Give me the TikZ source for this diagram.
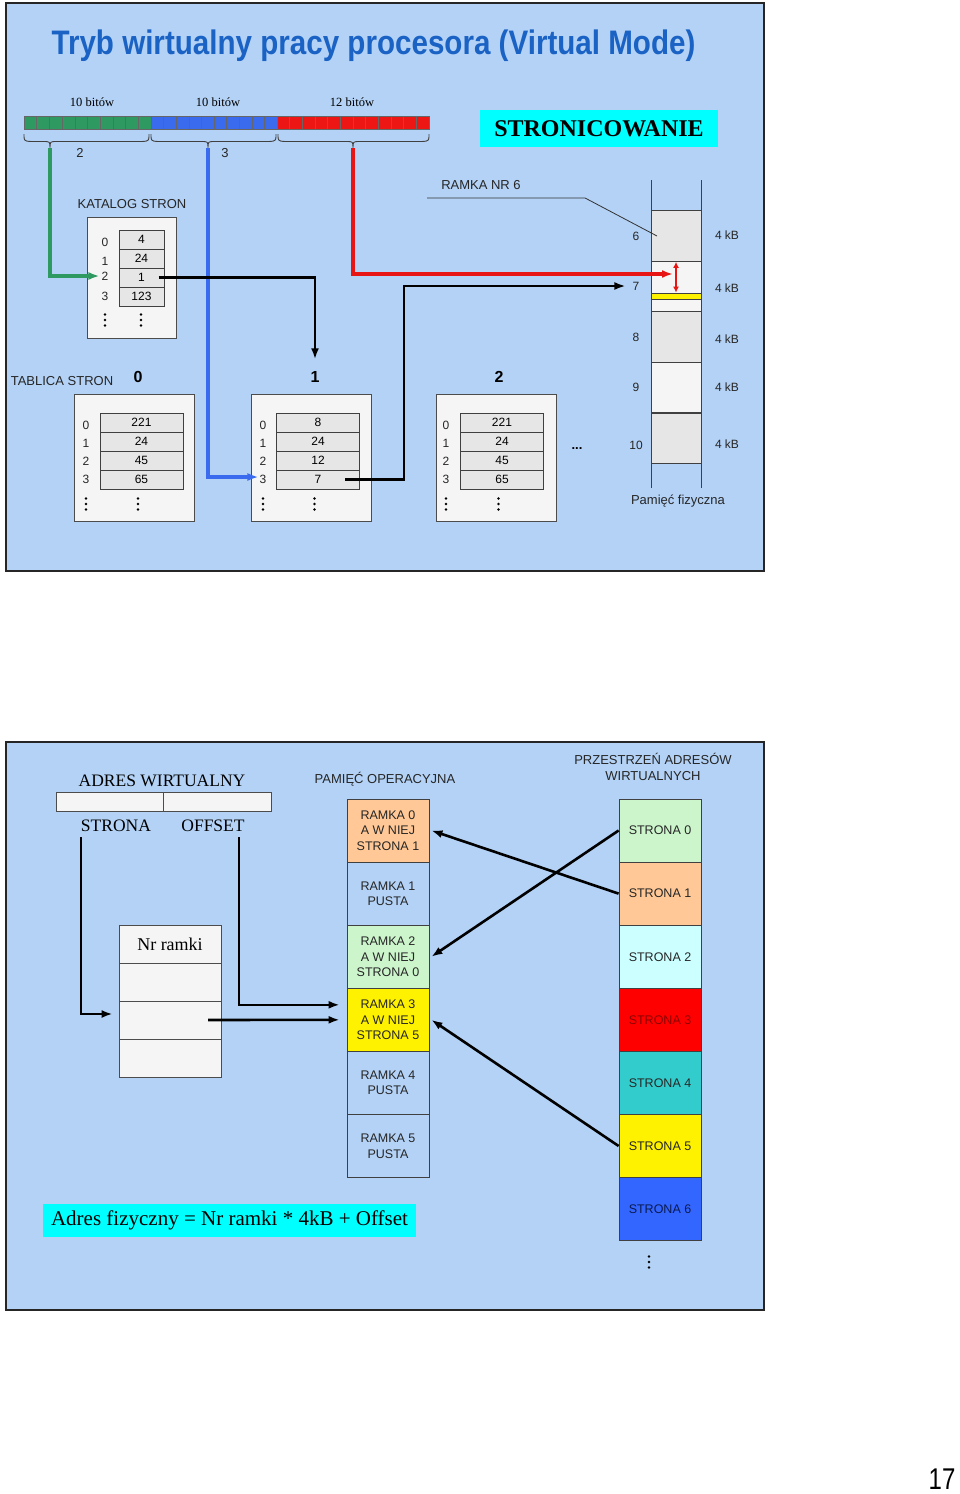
\documentclass[tikz,border=0pt]{standalone}
\usepackage{fontspec}
\setmainfont{Liberation Serif}
\setsansfont{Liberation Sans}
\newfontfamily\condfont{Liberation Sans}[FakeStretch=0.87]
\newfontfamily\numfont{Liberation Sans}[FakeStretch=0.8]
\usetikzlibrary{arrows.meta}
\definecolor{bg}{HTML}{B3D2F6}
\definecolor{titleblue}{HTML}{1A62C4}
\definecolor{bitgreen}{HTML}{2E9A62}
\definecolor{bitblue}{HTML}{3A6AEE}
\definecolor{bitred}{HTML}{EE1515}
\definecolor{cellgray}{HTML}{E6E6E6}
\definecolor{panelwhite}{HTML}{F5F5F5}
\definecolor{cyanbox}{HTML}{00FFFF}
\definecolor{peach}{HTML}{FFC896}
\definecolor{lgreen}{HTML}{CCF5CC}
\definecolor{lcyan}{HTML}{CCFFFF}
\definecolor{teal}{HTML}{33CCCC}
\definecolor{pblue}{HTML}{3366FF}
\definecolor{linegreen}{HTML}{2E9A62}
\definecolor{lineblue}{HTML}{3A6AEE}
\definecolor{linered}{HTML}{E81515}
\definecolor{darkred}{HTML}{8A0000}
\definecolor{navy}{HTML}{0A1A50}
\tikzset{
 slide/.style={draw=black!85,line width=2pt,fill=bg},
 sl/.style={font=\sffamily\fontsize{13}{15}\selectfont,inner sep=0pt,text=black!85},
 sm/.style={font=\sffamily\fontsize{12}{14}\selectfont,inner sep=0pt,text=black!85},
 ser/.style={font=\rmfamily\fontsize{12.5}{14}\selectfont,inner sep=0pt},
 serbig/.style={font=\rmfamily\fontsize{17.5}{20}\selectfont,inner sep=0pt},
 cellbox/.style={draw=black!75,fill=cellgray,line width=0.7pt,minimum width=#1,minimum height=19pt,inner sep=0pt,font=\sffamily\fontsize{12}{14}\selectfont},
 panel/.style={draw=black!70,fill=panelwhite,line width=0.8pt,inner sep=0pt},
 conn/.style={line width=2.6pt,-{Latex[length=11pt,width=8pt]}},
 cconn/.style={draw=#1,line width=3.2pt,-{Latex[length=11pt,width=8pt,fill=#1]}},
 frm/.style={draw=black!75,line width=0.8pt,minimum width=82pt,minimum height=63pt,inner sep=0pt,align=center,font=\sffamily\fontsize{12.5}{15.5}\selectfont,text=black!85},
 mem/.style={draw=black!75,line width=0.8pt,minimum width=50pt,minimum height=50.5pt,inner sep=0pt},
 bit/.style={draw=black!60,line width=0.5pt},
 vd/.pic={\fill (0,-5.5) circle[radius=1.4]; \fill (0,0) circle[radius=1.4]; \fill (0,5.5) circle[radius=1.4];}
}
\begin{document}
\begin{tikzpicture}[x=1pt,y=-1pt]
\useasboundingbox (0,0) rectangle (960,1494);
\fill[white] (0,0) rectangle (960,1494);

% ================= TOP SLIDE =================
\draw[slide] (6,3) rectangle (764,571);
\node[font=\condfont\bfseries\fontsize{34}{38}\selectfont,text=titleblue,inner sep=0pt] (title) at (373.5,46) {Tryb wirtualny pracy procesora (Virtual Mode)};

\node[ser] (b1) at (92,102) {10 bitów};
\node[ser] (b2) at (218,102) {10 bitów};
\node[ser] (b3) at (352,102) {12 bitów};

\foreach \i in {0,...,9} \draw[bit,fill=bitgreen] ({24+\i*12.7},116) rectangle ++(12.7,13);
\foreach \i in {0,...,9} \draw[bit,fill=bitblue] ({151+\i*12.6},116) rectangle ++(12.6,13);
\foreach \i in {0,...,11} \draw[bit,fill=bitred] ({277+\i*12.667},116) rectangle ++(12.667,13);

\coordinate (tipg) at (50,148);
\coordinate (tipb) at (208,148);
\coordinate (tipr) at (353,148);
\foreach \a/\t/\b in {24/50/149, 151/208/276, 278/353/429} {
 \draw[line width=0.9pt,black!75] (\a,134) .. controls (\a,141) .. ({\a+7},141.5) -- ({\t-7},141.5) .. controls (\t,141.5) .. (\t,148) .. controls (\t,141.5) .. ({\t+7},141.5) -- ({\b-7},141.5) .. controls (\b,141) .. (\b,134);
}
\node[sl] (n2) at (80,153) {2};
\node[sl] (n3) at (225,153) {3};

\node[fill=cyanbox,minimum width=238pt,minimum height=37pt,inner sep=0pt,font=\rmfamily\bfseries\fontsize{24}{28}\selectfont] (stron) at (599,128.5) {STRONICOWANIE};

% katalog
\node[sl] (kat) at (132,204) {KATALOG STRON};
\node[panel,minimum width=89pt,minimum height=121pt] (kbox) at (131.5,277.5) {};
\foreach \r/\v/\ly in {0/4/242, 1/24/261, 2/1/276, 3/123/296} {
 \node[cellbox=45pt] (kc\r) at (141.5,{239.5+19*\r}) {\v};
 \node[sm] (kl\r) at (105,\ly) {\r};
}
\pic at (105,320) {vd};
\pic at (141,320) {vd};

% physical memory
\draw[line width=0.8pt,black!75] (651,180) -- (651,488);
\draw[line width=0.8pt,black!75] (701,180) -- (701,488);
\foreach \k/\y/\c in {6/236/cellgray, 7/286.5/panelwhite, 8/337/cellgray, 9/387.5/panelwhite, 10/438.5/cellgray}
 \node[mem,fill=\c] (f\k) at (676,\y) {};
\node[draw=black!75,line width=0.8pt,fill=yellow,minimum width=50pt,minimum height=6pt,inner sep=0pt] (ystrip) at (676,296) {};
\foreach \k/\y/\ky in {6/236/235, 7/286/288, 8/337/339, 9/387/387, 10/445/444} {
 \node[sm] (p\k) at (636,\y) {\k};
 \node[sm] (kb\k) at (727,\ky) {4 kB};
}
\node[sl] (pamf) at (678,501) {Pamięć fizyczna};

\node[sl] (rnr) at (481,185) {RAMKA NR 6};
\draw[line width=0.8pt,black!80] ([xshift=-14pt,yshift=-13pt]rnr.west) -- ++(158,0) -- ([xshift=-19pt]f6.center);

% page tables
\node[sl] (tabl) at (62,381) {TABLICA STRON};
\foreach \n/\bx/\cx/\lx/\hx/\va/\vb/\vc/\vd in {0/134/141.5/86/138/221/24/45/65, 1/311.5/318/263/315/8/24/12/7, 2/496/502/446/499/221/24/45/65} {
 \node[panel,minimum width=120pt,minimum height=127pt] (tb\n) at (\bx,457.5) {};
 \node[font=\sffamily\bfseries\fontsize{16}{18}\selectfont,inner sep=0pt] (th\n) at (\hx,377) {\n};
 \foreach \r/\v in {0/\va,1/\vb,2/\vc,3/\vd} {
  \node[cellbox=83pt] (tc\n\r) at (\cx,{422.5+19*\r}) {\v};
  \node[sm] (tl\n\r) at (\lx,{425+18*\r}) {\r};
 }
 \pic at (\lx,504) {vd};
 \pic at ({\cx-3.5},504) {vd};
}
\node[font=\sffamily\bfseries\fontsize{13}{15}\selectfont,inner sep=0pt] (ell) at (577,449) {...};

% connectors top
\coordinate (redend) at (673,274);
\draw[cconn=linegreen] (tipg) |- ([xshift=-2pt]kl2.west);
\draw[cconn=lineblue] (tipb) |- ([xshift=-1pt,yshift=2pt]tl13.west);
\draw[cconn=linered] (tipr) |- (redend);
\draw[linered,line width=1.2pt,{Latex[length=6pt,width=6pt]}-{Latex[length=6pt,width=6pt]}] ([yshift=-1pt]f7.north) -- (ystrip.north);
\draw[conn] ([xshift=17pt]kc2.center) -| ([yshift=12pt]th1.north);
\draw[conn] ([xshift=27pt]tc13.center) -- ++(59,0) |- ([xshift=-7pt]p7.west);

% ================= BOTTOM SLIDE =================
\draw[slide] (6,742) rectangle (764,1310);
\node[serbig] (adrw) at (162,781) {ADRES WIRTUALNY};
\node[panel,minimum width=107pt,minimum height=19pt] (adr1) at (109.5,801.5) {};
\node[panel,minimum width=108pt,minimum height=19pt] (adr2) at (217,801.5) {};
\node[serbig] (strona) at (116,826) {STRONA};
\node[serbig] (offset) at (213,826) {OFFSET};

\foreach \i/\t in {0/Nr ramki,1/,2/,3/}
 \node[panel,minimum width=102pt,minimum height=38pt,font=\rmfamily\fontsize{18}{20}\selectfont] (nr\i) at (170,{944+38*\i}) {\t};

\node[sl] (pamop) at (385,779) {PAMIĘĆ OPERACYJNA};
\node[sl,align=center,font=\sffamily\fontsize{13}{16}\selectfont] (przes) at (653,767) {PRZESTRZEŃ ADRESÓW\\WIRTUALNYCH};

\node[frm,fill=peach] (r0) at (388,830.5) {RAMKA 0\\A W NIEJ\\STRONA 1};
\node[frm,fill=bg] (r1) at (388,893.6) {RAMKA 1\\PUSTA};
\node[frm,fill=lgreen] (r2) at (388,956.7) {RAMKA 2\\A W NIEJ\\STRONA 0};
\node[frm,fill=yellow] (r3) at (388,1019.8) {RAMKA 3\\A W NIEJ\\STRONA 5};
\node[frm,fill=bg] (r4) at (388,1082.9) {RAMKA 4\\PUSTA};
\node[frm,fill=bg] (r5) at (388,1146) {RAMKA 5\\PUSTA};

\node[frm,fill=lgreen] (s0) at (660,830.5) {STRONA 0};
\node[frm,fill=peach] (s1) at (660,893.6) {STRONA 1};
\node[frm,fill=lcyan] (s2) at (660,956.7) {STRONA 2};
\node[frm,fill=red,text=darkred] (s3) at (660,1019.8) {STRONA 3};
\node[frm,fill=teal] (s4) at (660,1082.9) {STRONA 4};
\node[frm,fill=yellow] (s5) at (660,1146) {STRONA 5};
\node[frm,fill=pblue,text=navy] (s6) at (660,1209.1) {STRONA 6};
\pic at (649,1262) {vd};

\draw[conn] (s1.west) -- ([xshift=2pt]r0.east);
\draw[conn] (s0.west) -- ([xshift=2pt]r2.east);
\draw[conn] (s5.west) -- ([xshift=2pt]r3.east);

\draw[conn] ([xshift=-35pt,yshift=-11pt]strona.center) |- ([xshift=-6pt,yshift=6pt]nr2.west);
\draw[conn] ([xshift=26pt,yshift=-11pt]offset.center) |- ([xshift=-7pt,yshift=15pt]r3.west);
\draw[conn] ([xshift=38pt]nr2.center) -- ([xshift=-7pt]r3.west);

\node[fill=cyanbox,minimum width=373pt,minimum height=33pt,inner sep=0pt,font=\rmfamily\fontsize{21}{24}\selectfont] (form) at (229.5,1220.5) {Adres fizyczny = Nr ramki * 4kB + Offset};

\node[font=\numfont\fontsize{30}{32}\selectfont,inner sep=0pt] (pg) at (942,1479) {17};
\end{tikzpicture}
\end{document}
